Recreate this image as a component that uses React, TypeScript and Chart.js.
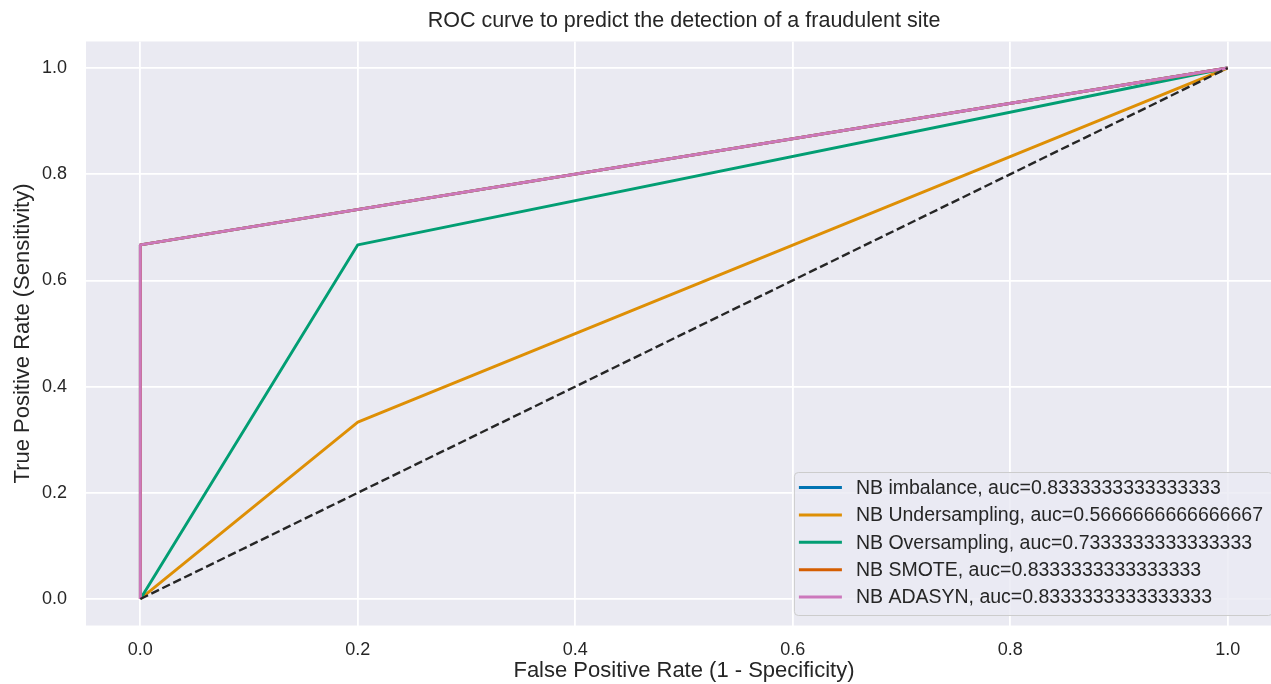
import React, { useEffect, useRef } from 'react';
import { Chart, registerables } from 'chart.js';

Chart.register(...registerables);

const FONT = '"Liberation Sans", Arial, Helvetica, sans-serif';
const TEXT = '#262626';

const chartTitle = 'ROC curve to predict the detection of a fraudulent site';
const xAxisTitle = 'False Positive Rate (1 - Specificity)';
const yAxisTitle = 'True Positive Rate (Sensitivity)';

const xTicks = [0, 0.2, 0.4, 0.6, 0.8, 1.0];
const yTicks = [0, 0.2, 0.4, 0.6, 0.8, 1.0];

const seriesNames = ['NB imbalance', 'NB Undersampling', 'NB Oversampling', 'NB SMOTE', 'NB ADASYN'];
const seriesAuc = ['0.8333333333333333', '0.5666666666666667', '0.7333333333333333', '0.8333333333333333', '0.8333333333333333'];
const seriesColors = ['#0173b2', '#de8f05', '#029e73', '#d55e00', '#cc78bc'];

const fprImbalance = [0, 0, 1];
const tprImbalance = [0, 0.667, 1];
const fprUnder = [0, 0.2, 1];
const tprUnder = [0, 0.333, 1];
const fprOver = [0, 0.2, 1];
const tprOver = [0, 0.667, 1];
const fprSmote = [0, 0, 1];
const tprSmote = [0, 0.667, 1];
const fprAdasyn = [0, 0, 1];
const tprAdasyn = [0, 0.667, 1];
const fprChance = [0, 1];
const tprChance = [0, 1];

const seriesFpr = [fprImbalance, fprUnder, fprOver, fprSmote, fprAdasyn];
const seriesTpr = [tprImbalance, tprUnder, tprOver, tprSmote, tprAdasyn];

const toPoints = (xs: number[], ys: number[]) => xs.map((x, i) => ({ x, y: ys[i] }));

const LINE_W = 2.9;

const legendPlugin = {
  id: 'mplLegend',
  afterDatasetsDraw(chart: any) {
    const { ctx, chartArea } = chart;
    const fs = 19.5;
    const entries = chart.data.datasets.filter((d: any) => d.inLegend);
    ctx.save();
    ctx.font = `${fs}px ${FONT}`;
    const maxW = Math.max(...entries.map((e: any) => ctx.measureText(e.label).width));
    const padL = 5;
    const handle = 43;
    const gap = 14;
    const padR = 9;
    const rowH = 27.4;
    const boxW = padL + handle + gap + maxW + padR;
    const boxH = 143;
    const right = chartArea.right - 10;
    const bottom = chartArea.bottom - 10.5;
    const left = right - boxW;
    const top = bottom - boxH;
    ctx.beginPath();
    (ctx as any).roundRect(left + 0.5, top + 0.5, boxW, boxH, 4);
    ctx.fillStyle = 'rgba(234,234,242,0.8)';
    ctx.fill();
    ctx.strokeStyle = '#cccccc';
    ctx.lineWidth = 1;
    ctx.stroke();
    entries.forEach((e: any, i: number) => {
      const y = top + 15.5 + i * rowH;
      ctx.beginPath();
      ctx.moveTo(left + padL, y);
      ctx.lineTo(left + padL + handle, y);
      ctx.strokeStyle = e.borderColor;
      ctx.lineWidth = 3;
      ctx.lineCap = 'butt';
      ctx.stroke();
      ctx.fillStyle = TEXT;
      ctx.textBaseline = 'middle';
      ctx.textAlign = 'left';
      ctx.fillText(e.label, left + padL + handle + gap, y + 1);
    });
    ctx.restore();
  },
};

const bgPlugin = {
  id: 'plotBg',
  beforeDraw(chart: any) {
    const { ctx, chartArea } = chart;
    ctx.save();
    ctx.fillStyle = '#eaeaf2';
    ctx.fillRect(chartArea.left, chartArea.top, chartArea.right - chartArea.left, chartArea.bottom - chartArea.top);
    ctx.restore();
  },
};

export default function App() {
  const ref = useRef<HTMLCanvasElement | null>(null);

  useEffect(() => {
    if (!ref.current) return;
    const datasets: any[] = seriesNames.map((name, i) => ({
      label: `${name}, auc=${seriesAuc[i]}`,
      data: toPoints(seriesFpr[i], seriesTpr[i]),
      borderColor: seriesColors[i],
      backgroundColor: seriesColors[i],
      borderWidth: LINE_W,
      showLine: true,
      pointRadius: 0,
      pointHoverRadius: 0,
      fill: false,
      tension: 0,
      order: 10 - i,
      inLegend: true,
      borderCapStyle: 'butt',
      borderJoinStyle: 'round',
    }));
    datasets.push({
      label: 'chance',
      data: toPoints(fprChance, tprChance),
      borderColor: '#262626',
      backgroundColor: '#262626',
      borderWidth: 2.4,
      borderDash: [8.5, 3.7],
      showLine: true,
      pointRadius: 0,
      fill: false,
      order: 0,
      inLegend: false,
    });

    const chart = new Chart(ref.current, {
      type: 'scatter',
      data: { datasets },
      options: {
        animation: false,
        responsive: false,
        maintainAspectRatio: false,
        layout: { padding: 0 },
        plugins: {
          legend: { display: false },
          tooltip: { enabled: false },
          title: {
            display: true,
            fullSize: false,
            text: chartTitle,
            color: TEXT,
            font: { family: FONT, size: 21.5, weight: 'normal' },
            padding: { top: 8, bottom: 7.7 },
          },
        },
        scales: {
          x: {
            type: 'linear',
            min: -0.05,
            max: 1.05,
            afterBuildTicks: (s: any) => {
              s.ticks = xTicks.map((v) => ({ value: v }));
            },
            afterFit: (s: any) => {
              s.height = 74.5;
            },
            ticks: {
              color: TEXT,
              font: { family: FONT, size: 18 },
              padding: 14,
              callback: (v: any) => Number(v).toFixed(1),
            },
            grid: { color: '#ffffff', lineWidth: 1.8, drawTicks: false },
            border: { display: false },
            title: {
              display: true,
              text: xAxisTitle,
              color: TEXT,
              font: { family: FONT, size: 22 },
              padding: { top: 0, bottom: 15.8 },
            },
          },
          y: {
            type: 'linear',
            min: -0.05,
            max: 1.05,
            afterBuildTicks: (s: any) => {
              s.ticks = yTicks.map((v) => ({ value: v }));
            },
            afterFit: (s: any) => {
              s.width = 86;
            },
            ticks: {
              color: TEXT,
              font: { family: FONT, size: 18 },
              padding: 19,
              callback: (v: any) => Number(v).toFixed(1),
            },
            grid: { color: '#ffffff', lineWidth: 1.8, drawTicks: false },
            border: { display: false },
            title: {
              display: true,
              text: yAxisTitle,
              color: TEXT,
              font: { family: FONT, size: 22 },
              padding: { top: 9.5, bottom: 0 },
            },
          },
        },
      } as any,
      plugins: [bgPlugin, legendPlugin],
    });
    return () => chart.destroy();
  }, []);

  return (
    <div style={{ position: 'fixed', left: 0, top: 0, width: 1271, height: 684, overflow: 'hidden', background: '#ffffff' }}>
      <canvas ref={ref} width={1282} height={700} style={{ display: 'block' }} />
    </div>
  );
}
